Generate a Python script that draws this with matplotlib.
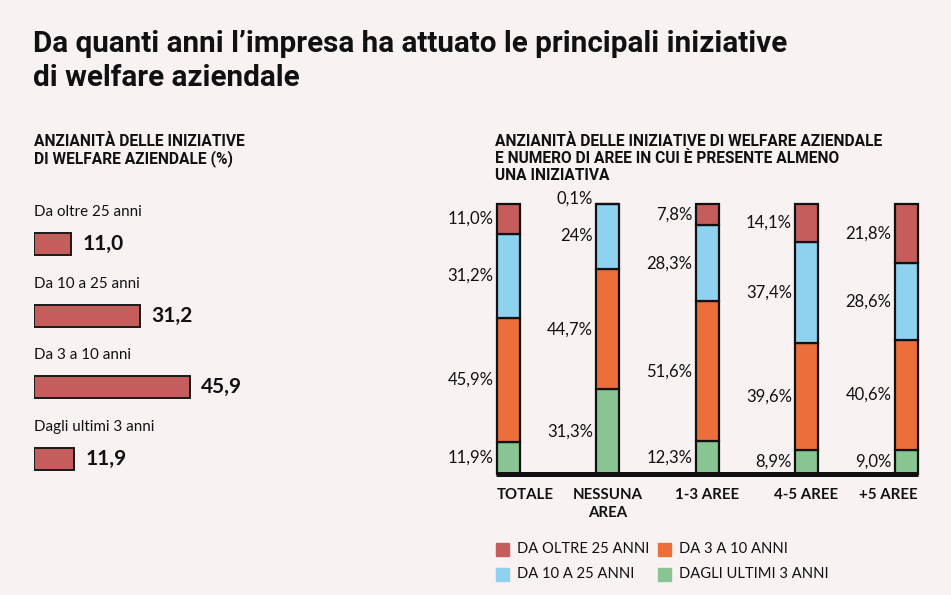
import matplotlib
matplotlib.use("Agg")
import matplotlib.pyplot as plt
import numpy as np

# ---------------- data ----------------
left_categories = ["Da oltre 25 anni", "Da 10 a 25 anni", "Da 3 a 10 anni", "Dagli ultimi 3 anni"]
left_values = [11.0, 31.2, 45.9, 11.9]
left_labels = ["11,0", "31,2", "45,9", "11,9"]

groups = ["TOTALE", "NESSUNA\nAREA", "1-3 AREE", "4-5 AREE", "+5 AREE"]
# stacking order bottom -> top
series_names = ["DAGLI ULTIMI 3 ANNI", "DA 3 A 10 ANNI", "DA 10 A 25 ANNI", "DA OLTRE 25 ANNI"]
ultimi3 = [11.9, 31.3, 12.3, 8.9, 9.0]
da3a10 = [45.9, 44.7, 51.6, 39.6, 40.6]
da10a25 = [31.2, 24.0, 28.3, 37.4, 28.6]
oltre25 = [11.0, 0.1, 7.8, 14.1, 21.8]
ultimi3_lbl = ["11,9%", "31,3%", "12,3%", "8,9%", "9,0%"]
da3a10_lbl = ["45,9%", "44,7%", "51,6%", "39,6%", "40,6%"]
da10a25_lbl = ["31,2%", "24%", "28,3%", "37,4%", "28,6%"]
oltre25_lbl = ["11,0%", "0,1%", "7,8%", "14,1%", "21,8%"]

# ---------------- style ----------------
BG = "#f8f2f2"
RED = "#c55d5d"
ORANGE = "#ec6f3b"
BLUE = "#8fd2ef"
GREEN = "#88c592"
TXT = "#111111"

W, H = 951, 595
fig = plt.figure(figsize=(W / 100, H / 100), dpi=100, facecolor=BG)

def fx(px):
    return px / W

def fy(py):
    return 1 - py / H

TITLE_FONT = "Roboto"
LBL_FONT = "Lato"

# title
fig.text(fx(33), fy(44), "Da quanti anni l\u2019impresa ha attuato le principali iniziative",
         fontsize=21.3, fontweight="bold", family=TITLE_FONT, color=TXT, va="center", ha="left")
fig.text(fx(33), fy(78), "di welfare aziendale",
         fontsize=21.3, fontweight="bold", family=TITLE_FONT, color=TXT, va="center", ha="left")

# subtitles
for i, line in enumerate(["ANZIANIT\u00c0 DELLE INIZIATIVE", "DI WELFARE AZIENDALE (%)"]):
    fig.text(fx(34), fy(142 + 16.5 * i), line, fontsize=11.2, fontweight="bold",
             family=TITLE_FONT, color=TXT, va="center", ha="left")
for i, line in enumerate(["ANZIANIT\u00c0 DELLE INIZIATIVE DI WELFARE AZIENDALE",
                          "E NUMERO DI AREE IN CUI \u00c8 PRESENTE ALMENO",
                          "UNA INIZIATIVA"]):
    fig.text(fx(495), fy(142 + 16.5 * i), line, fontsize=11.2, fontweight="bold",
             family=TITLE_FONT, color=TXT, va="center", ha="left")

# ---------------- left chart ----------------
px_per_unit = 3.4
row_px = 71.67
first_row = 244
axL_left, axL_right = 34, 334
axL_top, axL_bot = 200, 500
axL = fig.add_axes([fx(axL_left), fy(axL_bot), (axL_right - axL_left) / W, (axL_bot - axL_top) / H])
axL.set_facecolor("none")
axL.set_xlim(0, (axL_right - axL_left) / px_per_unit)
axL.set_ylim((axL_bot - first_row) / row_px, (axL_top - first_row) / row_px)
ypos = np.arange(len(left_values))
axL.barh(ypos, left_values, height=22 / row_px, color=RED, edgecolor="#1a1a1a", linewidth=1.4)
for i, (v, lab, cat) in enumerate(zip(left_values, left_labels, left_categories)):
    axL.text(v + 11 / px_per_unit, i, lab, fontsize=15, fontweight="bold", family=LBL_FONT,
             color=TXT, va="center", ha="left")
    axL.text(0, i - 32 / row_px, cat, fontsize=10.9, family=LBL_FONT, color=TXT, va="center", ha="left")
axL.axis("off")

# ---------------- right chart ----------------
x0_px, step_px = 508, 99.5
axR_left, axR_right = 470, 940
axR_top, axR_bot = 204, 474
axR = fig.add_axes([fx(axR_left), fy(axR_bot), (axR_right - axR_left) / W, (axR_bot - axR_top) / H])
axR.set_facecolor("none")
axR.set_xlim((axR_left - x0_px) / step_px, (axR_right - x0_px) / step_px)
axR.set_ylim(0, 100)
xpos = np.arange(len(groups))
bw = 23 / step_px

stack = [ultimi3, da3a10, da10a25, oltre25]
labels = [ultimi3_lbl, da3a10_lbl, da10a25_lbl, oltre25_lbl]
colors = [GREEN, ORANGE, BLUE, RED]
bottom = np.zeros(len(groups))
for vals, lbls, col in zip(stack, labels, colors):
    vals = np.array(vals)
    axR.bar(xpos, vals, bw, bottom=bottom, color=col, edgecolor="#111111", linewidth=1.6,
            clip_on=False, zorder=2)
    for i in range(len(groups)):
        yc = bottom[i] + vals[i] / 2
        if vals[i] < 1:
            yc = bottom[i] + vals[i] + 2
        axR.text(xpos[i] - bw / 2 - 3 / step_px, yc, lbls[i], fontsize=12, family=LBL_FONT,
                 color=TXT, va="center", ha="right")
    bottom += vals

# baseline
axR.plot([xpos[0] - bw / 2 - 1 / step_px, xpos[-1] + bw / 2 + 1 / step_px], [0, 0],
         color="#111111", linewidth=3.6, solid_capstyle="butt", clip_on=False, zorder=3)

# category labels
has = ["left", "center", "center", "center", "right"]
for i, (g, ha) in enumerate(zip(groups, has)):
    if ha == "left":
        xx = xpos[i] - bw / 2
    elif ha == "right":
        xx = xpos[i] + bw / 2
    else:
        xx = xpos[i]
    axR.text(xx, -14 / 270 * 100, g, fontsize=10.8, fontweight="bold", family=LBL_FONT,
             color=TXT, va="top", ha=ha, linespacing=1.4, multialignment="center")
axR.axis("off")

# legend (manual layout to match)
leg_items = [("DA OLTRE 25 ANNI", RED, 496, 549), ("DA 3 A 10 ANNI", ORANGE, 658, 549),
             ("DA 10 A 25 ANNI", BLUE, 496, 574), ("DAGLI ULTIMI 3 ANNI", GREEN, 658, 574)]
for name, col, lx, ly in leg_items:
    fig.patches.append(plt.Rectangle((fx(lx), fy(ly + 6.5)), 13 / W, 13 / H, color=col,
                                     transform=fig.transFigure, figure=fig))
    fig.text(fx(lx + 21), fy(ly), name, fontsize=10.6, family=LBL_FONT, color=TXT,
             va="center", ha="left")

fig.savefig("out.png", dpi=100, facecolor=BG)
